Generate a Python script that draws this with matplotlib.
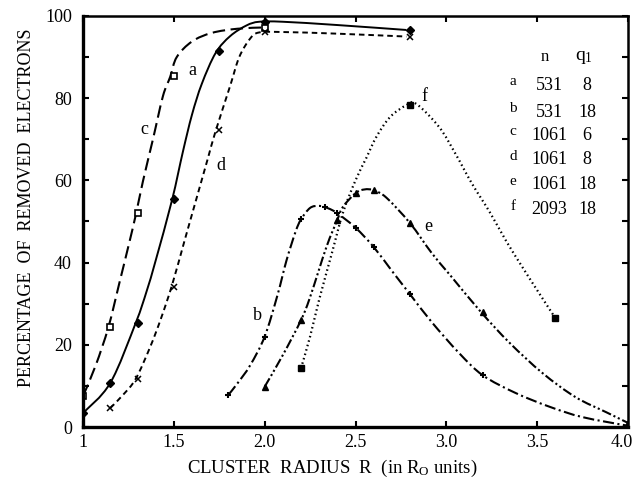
import numpy as np
import matplotlib
matplotlib.use("Agg")
import matplotlib.pyplot as plt
from matplotlib.path import Path
from matplotlib.patches import PathPatch
from matplotlib.transforms import ScaledTranslation

plt.rcParams['font.family'] = ['Liberation Serif', 'DejaVu Serif']
plt.rcParams['mathtext.fontset'] = 'stix'
plt.rcParams['mathtext.default'] = 'regular'
plt.rcParams['lines.scale_dashes'] = False

# ---- curve traces (x = R in R0 units, y = %)
a_x = [1.0, 1.15, 1.29, 1.35, 1.4, 1.49, 1.55, 1.6, 1.654, 1.73, 1.81, 1.9, 1.97, 2.1, 2.4, 2.78]
a_y = [3.4, 10.7, 25.3, 33, 40.5, 55.2, 67, 76, 83.5, 91, 95.1, 97.7, 98.6, 98.6, 97.8, 96.6]
c_x = [1.0, 1.07, 1.14, 1.2, 1.25, 1.29, 1.33, 1.385, 1.44, 1.48, 1.516, 1.6, 1.71, 1.85, 1.99]
c_y = [7.5, 15, 24.3, 35, 44, 51.5, 59.8, 70, 80.5, 85.2, 90, 93.8, 95.9, 96.9, 97.2]
d_x = [1.15, 1.22, 1.29, 1.37, 1.43, 1.49, 1.56, 1.626, 1.687, 1.73, 1.81, 1.86, 1.92, 1.97, 2.1, 2.4, 2.78]
d_y = [4.6, 7.8, 11.7, 19.5, 26.5, 34.5, 45.5, 55.8, 65.3, 72, 83, 90, 94.5, 96, 96.1, 95.7, 95.0]
b_x = [1.8, 1.85, 1.92, 2.0, 2.07, 2.12, 2.17, 2.2, 2.25, 2.3, 2.35, 2.4, 2.5, 2.6, 2.7, 2.8, 2.92, 3.07, 3.2, 3.38, 3.57, 3.75, 4.0]
b_y = [7.8, 10.6, 15, 22, 32, 40.5, 47.5, 50.5, 53.3, 53.8, 53.2, 52, 48.5, 43.8, 38, 32.3, 25.5, 18, 12.6, 8.3, 4.9, 2.4, 0.3]
e_x = [2.0, 2.1, 2.2, 2.25, 2.34, 2.4, 2.43, 2.5, 2.55, 2.6, 2.67, 2.8, 2.92, 3.02, 3.19, 3.35, 3.53, 3.71, 3.88, 4.0]
e_y = [9.8, 17.5, 26, 31.6, 43.8, 50.4, 53.5, 56.9, 57.8, 57.6, 55.8, 49.6, 42.3, 37, 28, 20.4, 13.1, 7.3, 3.6, 1]
f_x = [2.2, 2.25, 2.3, 2.37, 2.43, 2.5, 2.56, 2.615, 2.69, 2.78, 2.835, 2.96, 3.05, 3.14, 3.24, 3.33, 3.42, 3.51, 3.6]
f_y = [14.3, 22, 31, 42.3, 52, 60, 65.5, 70.6, 75.4, 78.3, 78.6, 73, 66.5, 59.3, 52.2, 45.2, 38.8, 32.6, 26.5]

# ---- computed points (markers)
a_mx = [1.0, 1.15, 1.3, 1.5, 1.75, 2.0, 2.8]
a_my = [3.4, 10.7, 25.3, 55.5, 91.5, 98.6, 96.6]
c_mx = [1.0, 1.15, 1.3, 1.5, 2.0]
c_my = [7.5, 24.3, 52, 85.5, 97.2]
d_mx = [1.15, 1.3, 1.5, 1.75, 2.0, 2.8]
d_my = [4.6, 11.7, 34, 72.3, 96.1, 95.0]
b_mx = [1.8, 2.0, 2.2, 2.33, 2.4, 2.5, 2.6, 2.8, 3.2, 4.0]
b_my = [7.8, 22, 50.5, 53.6, 52, 48.5, 43.8, 32.3, 12.6, 0.3]
e_mx = [2.0, 2.2, 2.4, 2.5, 2.6, 2.8, 3.2, 4.0]
e_my = [9.8, 26, 50.4, 56.9, 57.6, 49.6, 28, 1]
f_mx = [2.2, 2.8, 3.6]
f_my = [14.3, 78.3, 26.5]

# ---- table of cases
case_names = ['a', 'b', 'c', 'd', 'e', 'f']
case_n = ['531', '531', '1061', '1061', '1061', '2093']
case_q = ['8', '18', '6', '8', '18', '18']


def smooth_path(xs, ys):
    # Catmull-Rom through the read points, drawn as cubic Bezier segments
    p = np.column_stack([xs, ys]).astype(float)
    verts = [p[0]]
    codes = [Path.MOVETO]
    for i in range(len(p) - 1):
        p0 = p[i - 1] if i > 0 else p[i]
        p3 = p[i + 2] if i + 2 < len(p) else p[i + 1]
        c1 = p[i] + (p[i + 1] - p0) / 6.0
        c2 = p[i + 1] - (p3 - p[i]) / 6.0
        verts += [c1, c2, p[i + 1]]
        codes += [Path.CURVE4] * 3
    return Path(verts, codes)


def draw_curve(ax, xs, ys, ls, lw):
    ax.add_patch(PathPatch(smooth_path(xs, ys), fill=False, edgecolor='black',
                           lw=lw, linestyle=ls, capstyle='butt'))


fig = plt.figure(figsize=(6.37, 4.87), dpi=100)
ax = fig.add_axes([83 / 637, 1 - 427 / 487, 545 / 637, 411 / 487])

k = 'black'
draw_curve(ax, a_x, a_y, '-', 1.4)
ax.plot(a_mx, a_my, 'D', color=k, ms=4, ls='none')

draw_curve(ax, c_x, c_y, (0, (9, 4)), 1.5)
ax.plot(c_mx, c_my, 's', mfc='white', mec=k, mew=1.2, ms=5, ls='none')

draw_curve(ax, d_x, d_y, (0, (4, 2.8)), 1.4)
ax.plot(d_mx, d_my, 'x', color=k, mew=1.1, ms=5, ls='none')

draw_curve(ax, b_x, b_y, (0, (8, 2.5, 1.5, 2.5)), 1.5)
ax.plot(b_mx, b_my, '+', color=k, mew=1.5, ms=5, ls='none')

draw_curve(ax, e_x, e_y, (0, (7, 2, 1.5, 2, 1.5, 2)), 1.5)
ax.plot(e_mx, e_my, '^', color=k, ms=5, ls='none')

draw_curve(ax, f_x, f_y, (0, (1.1, 2.2)), 1.6)
ax.plot(f_mx, f_my, 's', color=k, ms=4, ls='none')

# curve labels
fs = 13
ax.text(1.604, 86.7, 'a', fontsize=fs, ha='center', va='center')
ax.text(1.34, 72.5, 'c', fontsize=fs, ha='center', va='center')
ax.text(1.76, 63.6, 'd', fontsize=fs, ha='center', va='center')
ax.text(1.96, 27.2, 'b', fontsize=fs, ha='center', va='center')
ax.text(2.9, 48.7, 'e', fontsize=fs, ha='center', va='center')
ax.text(2.88, 80.3, 'f', fontsize=fs, ha='center', va='center')

# table
ax.text(0.848, 0.900, 'n', transform=ax.transAxes, fontsize=12, ha='center', va='center')
ax.text(0.920, 0.900, 'q$_1$', transform=ax.transAxes, fontsize=14, ha='center', va='center')
rows_y = [0.832, 0.766, 0.710, 0.650, 0.589, 0.528]
for name, n, q, yy in zip(case_names, case_n, case_q, rows_y):
    ax.text(0.789, yy + 0.008, name, transform=ax.transAxes, fontsize=11, ha='center', va='center')
    ax.text(0.855, yy, n, transform=ax.transAxes, fontsize=13, ha='center', va='center')
    ax.text(0.925, yy, q, transform=ax.transAxes, fontsize=13, ha='center', va='center')

ax.set_xlim(1, 4)
ax.set_ylim(0, 100)
ax.set_xticks([1, 1.5, 2, 2.5, 3, 3.5, 4])
ax.set_xticklabels(['1', '1.5', '2.0', '2.5', '3.0', '3.5', '4.0'], fontsize=13)
ax.set_yticks(np.arange(0, 101, 20))
ax.set_yticks(np.arange(0, 101, 10), minor=True)
ax.set_yticklabels(['0', '20', '40', '60', '80', '100'], fontsize=13)
ax.tick_params(axis='both', which='both', direction='in', top=True, right=True, length=4, width=1.5)
ax.tick_params(axis='y', which='both', left=True, pad=8)
ax.tick_params(axis='x', pad=5)

# keep the last x label inside the canvas
last = ax.get_xticklabels()[-1]
last.set_transform(last.get_transform() + ScaledTranslation(-6 / 100, 0, fig.dpi_scale_trans))

for s in ['left', 'bottom']:
    ax.spines[s].set_linewidth(2.4)
for s in ['top', 'right']:
    ax.spines[s].set_linewidth(1.8)

fig.text(332 / 637, 1 - 468 / 487, 'CLUSTER  RADIUS  R  (in R$_O$ units)', fontsize=13.5, ha='center', va='center')
fig.text(27 / 637, 1 - 208 / 487, 'PERCENTAGE  OF  REMOVED  ELECTRONS', fontsize=13, ha='center', va='center', rotation=90)

fig.savefig('out.png', dpi=100)
